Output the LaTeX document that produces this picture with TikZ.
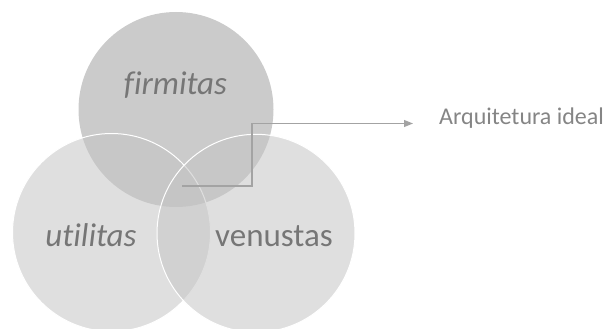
\documentclass[tikz,border=0pt]{standalone}
\usepackage{fontspec}
\setmainfont[Ligatures=CommonOff]{Carlito}
\usetikzlibrary{arrows.meta}
\definecolor{topgray}{HTML}{CBCBCB}
\definecolor{lowgray}{HTML}{C5C5C5}
\definecolor{txtgray}{HTML}{767676}
\definecolor{lblgray}{HTML}{858585}
\definecolor{linegray}{HTML}{A3A3A3}
\tikzset{
  topcircle/.style={circle, fill=topgray, draw=none, minimum size=195pt, inner sep=0pt},
  lowcircle/.style={circle, fill=lowgray, fill opacity=0.55, draw=white, draw opacity=1, line width=1pt, minimum size=198pt, inner sep=0pt},
  bigtext/.style={text=txtgray, font=\fontsize{33}{36}\selectfont, anchor=base, inner sep=0pt},
  lbltext/.style={text=lblgray, font=\fontsize{24}{26}\selectfont, anchor=base west, inner sep=0pt},
  conn/.style={draw=linegray, line width=1.1pt, -{Triangle[length=9pt,width=7pt]}}
}
\begin{document}
\begin{tikzpicture}[x=1pt,y=-1pt]
\useasboundingbox (0,0) rectangle (605,329);
\node[topcircle] (firm) at (176,109.5) {};
\node[lowcircle] (util) at (111.5,232.5) {};
\node[lowcircle] (venu) at (256,233.3) {};
\node[bigtext] (tfirm) at (175.5,95) {\itshape firmitas};
\node[bigtext] (tutil) at (91,246.5) {\itshape utilitas};
\node[bigtext] (tvenu) at (274,246.5) {venustas};
\coordinate (start) at (182,186);
\coordinate (bend1) at (252,186);
\coordinate (bend2) at (252,123.5);
\node[lbltext] (lbl) at (439,124) {Arquitetura ideal};
\coordinate (tip) at (413,123.5);
\draw[conn] (start) -- (bend1) -- (bend2) -- (tip);
\end{tikzpicture}
\end{document}
